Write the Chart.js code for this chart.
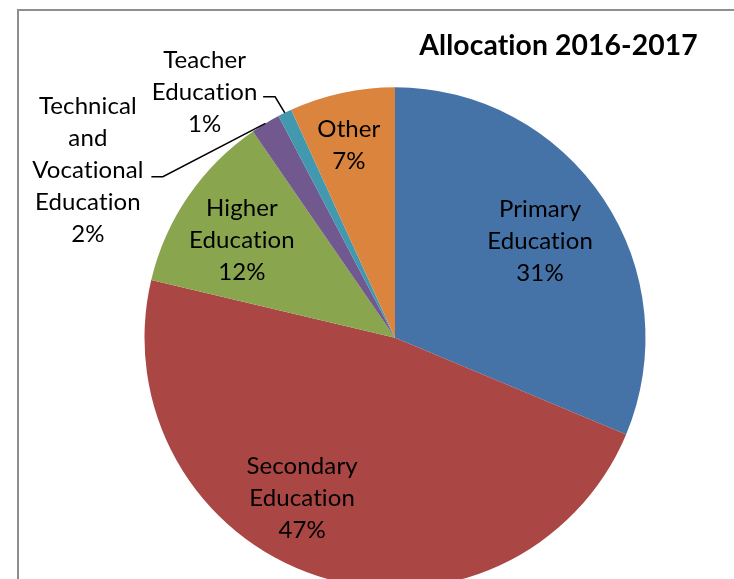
<!DOCTYPE html>
<html>
<head>
<meta charset="utf-8">
<script src="https://cdn.jsdelivr.net/npm/chart.js@4"></script>
<style>
  html, body { margin: 0; padding: 0; background: #fff; overflow: hidden; }
  #wrap { width: 734px; height: 600px; }
</style>
</head>
<body>
<div id="wrap"><canvas id="c" width="734" height="600"></canvas></div>
<script>
// ---- data ----
const categories = [
  ["Primary", "Education"],
  ["Secondary", "Education"],
  ["Higher", "Education"],
  ["Technical", "and", "Vocational", "Education"],
  ["Teacher", "Education"],
  ["Other"]
];
const shares = [31.3, 47.4, 11.7, 1.9, 0.9, 6.8];
const chartTitle = "Allocation 2016-2017";

// ---- styles ----
const colors = ["#4572A7", "#AA4643", "#89A54E", "#71588F", "#4198AF", "#DB843D"];
// label anchor positions in units of pie radius, relative to pie centre
const labelPos = [
  [0.579, -0.390], [-0.371, 0.636], [-0.611, -0.392],
  [-1.226, -0.674], [-0.760, -0.985], [-0.184, -0.771]
];
// leader lines: start offset from label anchor, elbow length
const leaders = { 3: { dx: 63.5, dy: 7.7, elbow: 11.5 }, 4: { dx: 58.5, dy: 5.7, elbow: 12 } };
const FONT = "Lato, 'Open Sans', sans-serif";
const FS = 24, LH = 32;

const decor = {
  id: 'decor',
  beforeDraw(chart) {
    const ctx = chart.ctx;
    ctx.save();
    ctx.fillStyle = '#fff';
    ctx.fillRect(0, 0, chart.width, chart.height);
    ctx.strokeStyle = '#8e8e8e';
    ctx.lineWidth = 2;
    ctx.strokeRect(18, 10, 900, 900);
    ctx.restore();
  },
  afterDraw(chart) {
    const ctx = chart.ctx;
    const meta = chart.getDatasetMeta(0);
    const total = shares.reduce((a, b) => a + b, 0);
    ctx.save();
    if ('letterSpacing' in ctx) ctx.letterSpacing = '0.1px';
    // title
    ctx.fillStyle = '#000';
    ctx.font = "bold 28.3px " + FONT;
    ctx.textAlign = 'center';
    ctx.textBaseline = 'alphabetic';
    ctx.fillText(chartTitle, 558.5, 55);
    ctx.font = FS + "px " + FONT;
    meta.data.forEach((arc, i) => {
      const p = arc.getProps(['x', 'y', 'outerRadius', 'startAngle', 'endAngle'], true);
      const R = p.outerRadius;
      const ax = p.x + labelPos[i][0] * R;
      const ay = p.y + labelPos[i][1] * R;
      const lines = categories[i].concat([Math.round(shares[i] / total * 100) + '%']);
      const n = lines.length;
      const mid = (n - 1) / 2;
      lines.forEach((t, k) => {
        const cy = ay + (k - mid) * LH;
        ctx.fillText(t, ax, cy + FS * 0.36);
      });
      const L = leaders[i];
      if (L) {
        const ma = (p.startAngle + p.endAngle) / 2;
        const ex = p.x + Math.cos(ma) * R;
        const ey = p.y + Math.sin(ma) * R;
        const sx = ax + L.dx, sy = ay + L.dy;
        ctx.beginPath();
        ctx.strokeStyle = '#000';
        ctx.lineWidth = 1.5;
        ctx.moveTo(sx, sy);
        ctx.lineTo(sx + L.elbow, sy);
        ctx.lineTo(ex, ey);
        ctx.stroke();
      }
    });
    ctx.restore();
  }
};

new Chart(document.getElementById('c'), {
  type: 'pie',
  data: {
    labels: categories,
    datasets: [{ data: shares, backgroundColor: colors, borderWidth: 0 }]
  },
  options: {
    responsive: false,
    animation: false,
    layout: { padding: { left: 144.5, right: 88.5, top: 87.3, bottom: 11.7 } },
    plugins: { legend: { display: false }, tooltip: { enabled: false }, title: { display: false } }
  },
  plugins: [decor]
});
</script>
</body>
</html>
